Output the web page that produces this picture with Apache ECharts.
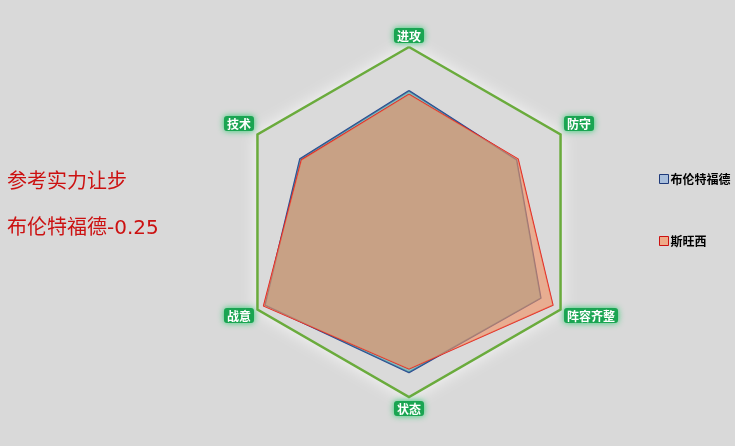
<!DOCTYPE html>
<html>
<head>
<meta charset="utf-8">
<script src="https://cdn.jsdelivr.net/npm/echarts@6/dist/echarts.min.js"></script>
<style>
  html, body { margin: 0; padding: 0; background: #d9d9d9; }
  #chart { width: 735px; height: 446px; }
</style>
</head>
<body>
<div id="chart"></div>
<script>
// 雷达图维度（从顶部开始逆时针）
var indicators = ["进攻", "技术", "战意", "状态", "阵容齐整", "防守"];
var teamNames = ["布伦特福德", "斯旺西"];
var brentfordValues = [75, 72, 95, 86, 87, 71];
var swanseaValues = [73, 71, 96, 84, 95, 72];
var titleLines = ["参考实力让步", "布伦特福德-0.25"];

var chart = echarts.init(document.getElementById("chart"));

// 侧面标签上移/下移，贴近原图
function nameFormatter(name) {
  var i = indicators.indexOf(name);
  if (i === 1 || i === 5) return "{t|" + name + "}\n{up| }";
  if (i === 2 || i === 4) return "{dn| }\n{t|" + name + "}";
  return "{t|" + name + "}";
}

var option = {
  backgroundColor: "#d9d9d9",
  textStyle: { fontFamily: "Noto Sans CJK SC" },
  title: {
    left: 2,
    top: 155,
    text: titleLines.join("\n"),
    textStyle: {
      color: "#cc1111",
      fontSize: 20,
      fontWeight: "normal",
      lineHeight: 46,
      fontFamily: "DejaVu Sans, Noto Sans CJK SC"
    }
  },
  legend: {
    orient: "vertical",
    left: 654,
    top: 168,
    itemGap: 50,
    itemWidth: 9,
    itemHeight: 9,
    icon: "rect",
    textStyle: { color: "#000", fontSize: 12, fontWeight: "bold", padding: [0, 0, 0, -3] },
    data: [
      { name: teamNames[0], itemStyle: { color: "#a9bfdc", borderColor: "#1f3a7a", borderWidth: 1 } },
      { name: teamNames[1], itemStyle: { color: "#eeaa88", borderColor: "#cc1111", borderWidth: 1 } }
    ]
  },
  radar: {
    center: [409, 222],
    radius: 175,
    shape: "polygon",
    splitNumber: 1,
    indicator: indicators.map(function (n) { return { name: n, max: 100 }; }),
    nameGap: 4,
    axisName: {
      formatter: nameFormatter,
      rich: {
        t: {
          color: "#fff",
          fontSize: 12,
          fontWeight: "bold",
          backgroundColor: "#1aa552",
          padding: [2, 3, 1, 3],
          borderRadius: 3,
          shadowColor: "#2ecc71",
          shadowBlur: 6
        },
        up: { fontSize: 1, height: 18, lineHeight: 18 },
        dn: { fontSize: 1, height: 8, lineHeight: 8 }
      }
    },
    axisLine: { show: false },
    splitLine: { lineStyle: { color: "#6aab3c", width: 2.5 } },
    splitArea: {
      areaStyle: {
        color: ["#dadada"],
        shadowColor: "rgba(255,255,255,0.9)",
        shadowBlur: 18
      }
    }
  },
  series: [
    {
      name: teamNames[0],
      type: "radar",
      symbol: "none",
      lineStyle: { color: "#2a4590", width: 1.5 },
      itemStyle: { color: "#a9bfdc", borderColor: "#1f3a7a" },
      areaStyle: { color: "#47a2a2", opacity: 0.55 },
      data: [{ name: teamNames[0], value: brentfordValues }]
    },
    {
      name: teamNames[1],
      type: "radar",
      symbol: "none",
      lineStyle: { color: "#e02020", width: 1.3 },
      itemStyle: { color: "#eeaa88", borderColor: "#cc1111" },
      areaStyle: { color: "#f29060", opacity: 0.6 },
      data: [{ name: teamNames[1], value: swanseaValues }]
    }
  ]
};

chart.setOption(option);
</script>
</body>
</html>
